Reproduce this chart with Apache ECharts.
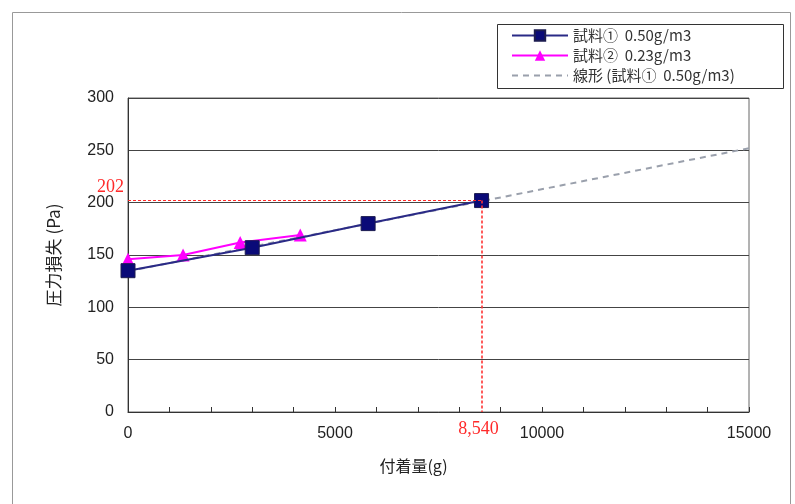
<!doctype html>
<html lang="ja">
<head>
<meta charset="utf-8">
<title>圧力損失と付着量</title>
<script src="https://cdn.jsdelivr.net/npm/echarts@6/dist/echarts.min.js"></script>
<style>
    html, body {margin: 0; padding: 0; background: #fff;}
    #chart {width: 795px; height: 504px;}
</style>
</head>
<body>
<div id="chart"></div>
<script>
    // 試料① 0.50g/m3
    const s1X = [0, 3000, 5800, 8540];
    const s1Y = [135, 157, 180, 202];
    // 試料② 0.23g/m3
    const s2X = [0, 1330, 2710, 4160];
    const s2Y = [146, 150, 162, 169];
    // 線形(試料①)
    const trendX = [0, 15000];
    const trendY = [134.5, 252];
    // 赤い補助線 (横・縦)
    const refHX = [0, 8540];
    const refHY = [202, 202];
    const refVX = [8540, 8540];
    const refVY = [202, 0];

    const yTicks = [0, 50, 100, 150, 200, 250, 300];
    const xTicks = [0, 5000, 10000, 15000];

    const zip = (xs, ys) => xs.map((x, i) => [x, ys[i]]);
    const numFont = '"Liberation Sans", Arial, sans-serif';
    const jpFont = '"Noto Sans CJK JP", sans-serif';
    const serifFont = '"Liberation Serif", "DejaVu Serif", serif';
    const red = '#ff2a2a';

    let chart = echarts.init(document.getElementById('chart'));

    chart.setOption({
        animation: false,
        grid: {left: 128, right: 46, top: 98, bottom: 92, show: true, borderColor: '#666', borderWidth: 1},
        graphic: [
            {
                type: 'rect', left: 10, top: 10, z: -10,
                shape: {width: 778, height: 520},
                style: {fill: 'none', stroke: '#999', lineWidth: 1}
            },
            {
                // 凡例の枠
                type: 'rect', left: 497, top: 24, z: -5,
                shape: {width: 286, height: 64},
                style: {fill: '#fff', stroke: '#333', lineWidth: 1}
            }
        ],
        legend: {
            left: 511, top: 28, orient: 'vertical',
            data: [
                {name: '試料①  0.50g/m3'},
                {name: '試料②  0.23g/m3'},
                {name: '線形 (試料①  0.50g/m3)', itemStyle: {opacity: 0}}
            ],
            padding: 0,
            itemGap: 5, itemWidth: 56, itemHeight: 13,
            textStyle: {fontFamily: jpFont, fontSize: 15, color: '#333'}
        },
        xAxis: {
            type: 'value', min: xTicks[0], max: xTicks[xTicks.length - 1], interval: 5000,
            name: '付着量(g)', nameLocation: 'middle', nameGap: 46,
            nameTextStyle: {fontFamily: jpFont, fontSize: 16, color: '#222', padding: [0, 50, 0, 0]},
            axisLine: {lineStyle: {color: '#333'}},
            axisTick: {show: true, inside: true, length: 5, lineStyle: {color: '#333'}},
            minorTick: {show: true, splitNumber: 5, length: 5, lineStyle: {color: '#333'}},
            axisLabel: {fontFamily: numFont, fontSize: 16, color: '#222', margin: 14, formatter: v => String(v)},
            splitLine: {show: false}
        },
        yAxis: {
            type: 'value', min: yTicks[0], max: yTicks[yTicks.length - 1], interval: 50,
            name: '圧力損失 (Pa)', nameLocation: 'middle', nameGap: 66, nameRotate: 90,
            nameTextStyle: {fontFamily: jpFont, fontSize: 17, color: '#222'},
            axisLine: {lineStyle: {color: '#333'}},
            axisTick: {show: false},
            axisLabel: {fontFamily: numFont, fontSize: 16, color: '#222', margin: 14},
            splitLine: {show: true, lineStyle: {color: '#444', width: 1}}
        },
        series: [
            {
                name: '線形 (試料①  0.50g/m3)', type: 'line', data: zip(trendX, trendY),
                symbol: 'none', z: 1,
                lineStyle: {color: '#9aa0ac', width: 2, type: [6, 5]},
                itemStyle: {color: '#9aa0ac'}
            },
            {
                name: 'ref', type: 'scatter', data: [], silent: true, z: 2,
                markLine: {
                    symbol: 'none', silent: true, animation: false,
                    lineStyle: {color: red, width: 1, type: [3, 2]},
                    label: {show: false},
                    data: [
                        [{coord: [refHX[0], refHY[0]]}, {coord: [refHX[1], refHY[1]]}],
                        [{coord: [refVX[0], refVY[0]], lineStyle: {width: 1.6, color: '#ff3333'}},
                            {coord: [refVX[1], refVY[1]]}]
                    ]
                },
                markPoint: {
                    symbol: 'circle', symbolSize: 0, silent: true,
                    data: [
                        {coord: [refHX[0], refHY[0]], value: '202',
                            label: {show: true, position: 'left', distance: 4, offset: [0, -13], formatter: '202',
                                color: red, fontFamily: serifFont, fontSize: 18}},
                        {coord: [refVX[1], refVY[1]], value: '8,540',
                            label: {show: true, position: 'bottom', distance: 8, offset: [-3, 0], formatter: '8,540',
                                color: red, fontFamily: serifFont, fontSize: 18}}
                    ]
                }
            },
            {
                name: '試料②  0.23g/m3', type: 'line', data: zip(s2X, s2Y),
                symbol: 'triangle', symbolSize: 13, z: 3,
                lineStyle: {color: '#ff00ff', width: 2},
                itemStyle: {color: '#ff00ff'}
            },
            {
                name: '試料①  0.50g/m3', type: 'line', data: zip(s1X, s1Y),
                symbol: 'rect', symbolSize: 14, z: 4,
                lineStyle: {color: '#2a2a86', width: 2},
                itemStyle: {color: '#0a0a78', borderColor: '#1c1c50', borderWidth: 1}
            }
        ]
    });

    window.onresize = function () {
        chart.resize();
    };
</script>
</body>
</html>
